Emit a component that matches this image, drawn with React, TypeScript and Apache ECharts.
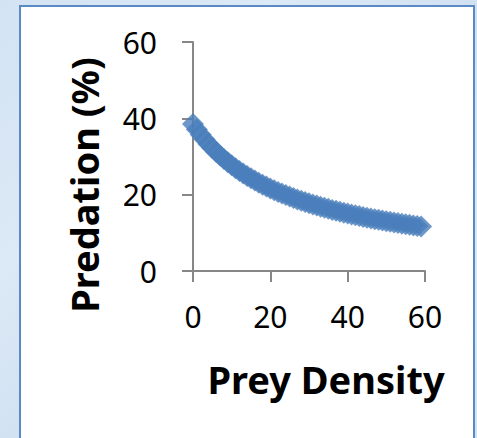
import React, { useEffect, useRef } from "react";
import * as echarts from "echarts";

const preyDensity: number[] = [
  0, 1, 2, 3, 4, 5, 6, 7, 8, 9, 10, 11, 12, 13, 14, 15, 16, 17, 18, 19,
  20, 21, 22, 23, 24, 25, 26, 27, 28, 29, 30, 31, 32, 33, 34, 35, 36, 37, 38, 39,
  40, 41, 42, 43, 44, 45, 46, 47, 48, 49, 50, 51, 52, 53, 54, 55, 56, 57, 58, 59,
];
const predation: number[] = [
  38.5, 37.05, 35.71, 34.47, 33.3, 32.22, 31.2, 30.24, 29.34, 28.5,
  27.7, 26.94, 26.23, 25.55, 24.9, 24.29, 23.71, 23.15, 22.62, 22.11,
  21.63, 21.17, 20.72, 20.3, 19.89, 19.49, 19.12, 18.75, 18.4, 18.07,
  17.74, 17.43, 17.13, 16.83, 16.55, 16.28, 16.01, 15.76, 15.51, 15.27,
  15.04, 14.81, 14.59, 14.38, 14.18, 13.97, 13.78, 13.59, 13.41, 13.23,
  13.05, 12.88, 12.71, 12.55, 12.4, 12.24, 12.09, 11.95, 11.8, 11.66,
];
const xTicks = { min: 0, max: 60, interval: 20 };
const yTicks = { min: 0, max: 60, interval: 20 };
const xTitle = "Prey Density";
const yTitle = "Predation (%)";

const FONT = "'Noto Sans', 'DejaVu Sans', sans-serif";
const AXIS_COLOR = "#878787";

export default function App() {
  const ref = useRef<HTMLDivElement>(null);
  useEffect(() => {
    if (!ref.current) return;
    const chart = echarts.init(ref.current, undefined, { renderer: "svg" });
    const axisCommon = {
      type: "value" as const,
      axisLine: { show: true, onZero: false, lineStyle: { color: AXIS_COLOR, width: 2 } },
      axisTick: { show: true, inside: false, length: 11, lineStyle: { color: AXIS_COLOR, width: 2 } },
      splitLine: { show: false },
      axisLabel: { color: "#000", fontSize: 30, fontFamily: FONT },
    };
    chart.setOption({
      animation: false,
      backgroundColor: "transparent",
      grid: { left: 193, top: 42, right: 52, bottom: 167, containLabel: false },
      xAxis: {
        ...axisCommon,
        ...xTicks,
        axisLabel: { ...axisCommon.axisLabel, margin: 30 },
      },
      yAxis: {
        ...axisCommon,
        ...yTicks,
        axisLabel: { ...axisCommon.axisLabel, margin: 36 },
      },
      graphic: [
        {
          type: "text",
          x: 326,
          y: 379,
          style: {
            text: xTitle,
            fontSize: 38,
            fontWeight: "bold",
            fontFamily: FONT,
            fill: "#000",
            align: "center",
            verticalAlign: "middle",
          },
        },
        {
          type: "text",
          x: 84,
          y: 185,
          rotation: Math.PI / 2,
          style: {
            text: yTitle,
            fontSize: 38,
            fontWeight: "bold",
            fontFamily: FONT,
            fill: "#000",
            align: "center",
            verticalAlign: "middle",
          },
        },
      ],
      series: [
        {
          type: "scatter",
          symbol: "diamond",
          symbolSize: 22,
          itemStyle: { color: "#4a7ebb" },
          data: preyDensity.map((x, i) => [x, predation[i]]),
        },
      ],
    });
    return () => chart.dispose();
  }, []);

  return (
    <div
      style={{
        position: "absolute",
        left: 0,
        top: 0,
        width: 477,
        height: 438,
        overflow: "hidden",
        background:
          "linear-gradient(135deg, #d3e3f3 0%, #dce9f6 30%, #cfe0f1 55%, #dae8f6 80%, #d2e2f2 100%)",
      }}
    >
      <div
        style={{
          position: "absolute",
          left: 19,
          top: 5,
          width: 452,
          height: 450,
          background: "#ffffff",
          border: "2px solid #5a8ac6",
        }}
      />
      <div ref={ref} style={{ position: "absolute", left: 0, top: 0, width: 477, height: 438 }} />
    </div>
  );
}
